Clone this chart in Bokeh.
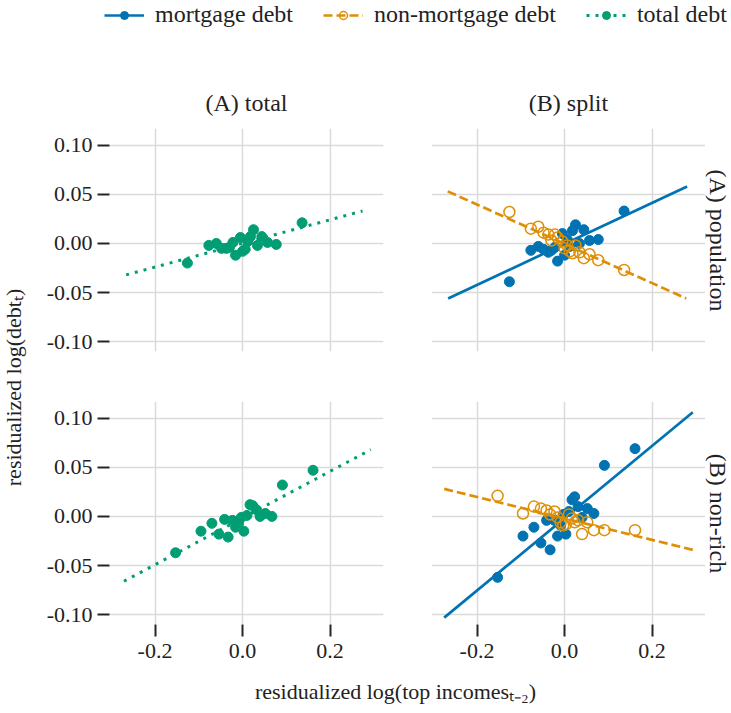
from math import pi
from bokeh.plotting import figure
from bokeh.models import (Range1d, FixedTicker, NumeralTickFormatter, Label, Legend,
                          LegendItem, Grid)
from bokeh.layouts import column, row
from bokeh.embed import file_html
from bokeh.resources import INLINE

FONT = "Liberation Serif"
FS = "22px"        # tick labels, axis labels
FS_W = "24px"      # legend, facet titles
TXT = "#222222"
BLUE, ORANGE, GREEN = "#0173B2", "#DE8F05", "#029E73"

# ---------------- data ----------------
x_ticks = [-0.2, 0.0, 0.2]
y_ticks = [-0.10, -0.05, 0.00, 0.05, 0.10]
col_titles = ["(A) total", "(B) split"]
row_titles = ["(A) population", "(B) non-rich"]
series_names = ["mortgage debt", "non-mortgage debt", "total debt"]
x_label = "residualized log(top incomesₜ₋₂)"
y_label = "residualized log(debtₜ)"

# row A: population
pop_x = [-0.126, -0.077, -0.060, -0.048, -0.037, -0.030, -0.022, -0.016, -0.005, 0.000,
         0.006, 0.012, 0.018, 0.025, 0.034, 0.044, 0.057, 0.077, 0.136]
pop_total = [-0.020, -0.002, 0.000, -0.005, -0.005, -0.004, 0.001, -0.012, 0.006, -0.008,
             -0.006, 0.002, 0.007, 0.014, -0.002, 0.007, 0.001, -0.001, 0.021]
pop_mortgage = [-0.039, -0.007, -0.003, -0.006, -0.009, -0.007, -0.004, -0.018, 0.010, -0.012,
                0.004, -0.003, 0.013, 0.019, 0.000, 0.014, 0.003, 0.004, 0.033]
pop_nonmortgage = [0.032, 0.015, 0.017, 0.011, 0.009, 0.003, 0.009, 0.006, 0.002, -0.005,
                   -0.002, -0.008, -0.010, -0.002, -0.009, -0.015, -0.011, -0.017, -0.027]

# row B: non-rich
nr_x = [-0.153, -0.095, -0.070, -0.054, -0.041, -0.033, -0.023, -0.016, -0.009, -0.003,
        0.003, 0.010, 0.017, 0.023, 0.031, 0.040, 0.052, 0.067, 0.091, 0.161]
nr_total = [-0.037, -0.015, -0.007, -0.018, -0.003, -0.021, -0.004, -0.011, -0.007, -0.001,
            -0.015, 0.001, 0.012, 0.011, 0.007, 0.000, 0.003, 0.000, 0.032, 0.047]
nr_mortgage = [-0.062, -0.020, -0.011, -0.027, -0.004, -0.034, -0.004, -0.020, -0.009, 0.002,
               -0.018, 0.005, 0.017, 0.020, 0.010, -0.001, 0.008, 0.003, 0.052, 0.069]
nr_nonmortgage = [0.021, 0.003, 0.010, 0.008, 0.006, 0.002, 0.005, -0.001, -0.006, -0.009,
                  -0.008, 0.002, -0.002, -0.006, -0.004, -0.018, -0.006, -0.014, -0.014, -0.014]

# fitted regression lines (end points)
pop_total_fit_x = [-0.266, 0.274]
pop_total_fit_y = [-0.032, 0.033]
pop_mortgage_fit_x = [-0.266, 0.280]
pop_mortgage_fit_y = [-0.056, 0.058]
pop_nonmortgage_fit_x = [-0.267, 0.278]
pop_nonmortgage_fit_y = [0.053, -0.056]
nr_total_fit_x = [-0.271, 0.293]
nr_total_fit_y = [-0.066, 0.068]
nr_mortgage_fit_x = [-0.275, 0.293]
nr_mortgage_fit_y = [-0.103, 0.106]
nr_nonmortgage_fit_x = [-0.275, 0.293]
nr_nonmortgage_fit_y = [0.028, -0.034]

X_RANGE = (-0.304, 0.322)
Y_RANGE = (-0.110, 0.117)

# ---------------- styles ----------------
LW_SOLID = 2.7
DASH = "9 4"
DOT = "3 6"
DOT_W = 3
MS = 10


def blank(width, height):
    p = figure(width=width, height=height, x_range=Range1d(0, width), y_range=Range1d(0, height),
               x_axis_location=None, y_axis_location=None, output_backend="svg",
               toolbar_location=None, min_border=0)
    p.outline_line_color = None
    p.grid.visible = False
    return p


def panel(width, height, mb_l, mb_r, mb_t, mb_b, show_x, show_y):
    p = figure(width=width, height=height, x_range=Range1d(*X_RANGE), y_range=Range1d(*Y_RANGE),
               x_axis_location="below" if show_x else None,
               y_axis_location="left" if show_y else None,
               output_backend="svg", toolbar_location=None,
               min_border_left=mb_l, min_border_right=mb_r,
               min_border_top=mb_t, min_border_bottom=mb_b)
    p.outline_line_color = None
    p.grid.visible = False
    for dim, ticks in ((0, x_ticks), (1, y_ticks)):
        g = Grid(dimension=dim, ticker=FixedTicker(ticks=ticks),
                 grid_line_color="#dadada", grid_line_width=1.5)
        p.add_layout(g, "center")
    axes = []
    if show_x:
        p.xaxis.ticker = FixedTicker(ticks=x_ticks)
        p.xaxis.formatter = NumeralTickFormatter(format="0.0")
        p.xaxis.major_label_standoff = 7
        axes.append(p.xaxis)
    if show_y:
        p.yaxis.ticker = FixedTicker(ticks=y_ticks)
        p.yaxis.formatter = NumeralTickFormatter(format="0.00")
        p.yaxis.major_label_standoff = 5
        axes.append(p.yaxis)
    for ax in axes:
        ax.axis_line_color = None
        ax.major_tick_line_color = "#262626"
        ax.major_tick_line_width = 2
        ax.major_tick_out = 12
        ax.major_tick_in = 0
        ax.minor_tick_line_color = None
        ax.major_label_text_font = FONT
        ax.major_label_text_font_size = FS
        ax.major_label_text_color = TXT
    return p


def draw_total(p, x, y, fx, fy, **kw):
    r1 = p.line(fx, fy, line_color=GREEN, line_width=DOT_W, line_dash=DOT, **kw)
    r2 = p.scatter(x, y, size=MS, fill_color=GREEN, line_color=GREEN, **kw)
    return [r1, r2]


def draw_split(p, x, ym, yn, fmx, fmy, fnx, fny, **kw):
    r1 = p.line(fmx, fmy, line_color=BLUE, line_width=LW_SOLID, **kw)
    r2 = p.scatter(x, ym, size=MS, fill_color=BLUE, line_color=BLUE, **kw)
    r3 = p.line(fnx, fny, line_color=ORANGE, line_width=LW_SOLID, line_dash=DASH, **kw)
    r4 = p.scatter(x, yn, size=MS + 1, fill_color="white", fill_alpha=0.0,
                   line_color=ORANGE, line_width=1.5, **kw)
    return [r1, r2], [r3, r4]


# panels: frames 274 x 223
tl = panel(367, 248, 69, 24, 0, 25, False, True)
tr = panel(298, 248, 24, 0, 0, 25, False, False)
bl = panel(367, 298, 69, 24, 25, 50, True, True)
br = panel(298, 298, 24, 0, 25, 50, True, False)

draw_total(tl, pop_x, pop_total, pop_total_fit_x, pop_total_fit_y)
draw_split(tr, pop_x, pop_mortgage, pop_nonmortgage,
           pop_mortgage_fit_x, pop_mortgage_fit_y, pop_nonmortgage_fit_x, pop_nonmortgage_fit_y)
draw_total(bl, nr_x, nr_total, nr_total_fit_x, nr_total_fit_y)
draw_split(br, nr_x, nr_mortgage, nr_nonmortgage,
           nr_mortgage_fit_x, nr_mortgage_fit_y, nr_nonmortgage_fit_x, nr_nonmortgage_fit_y)

# ---------------- top: legend + column titles ----------------
TOP_H = 128
top = blank(731, TOP_H)
# legend proxies: the same series, on a range that keeps them out of sight
top.extra_x_ranges = {"hidden": Range1d(1000, 1001)}
top.extra_y_ranges = {"hidden": Range1d(1000, 1001)}
hid = dict(x_range_name="hidden", y_range_name="hidden")
leg_m, leg_n = draw_split(top, pop_x, pop_mortgage, pop_nonmortgage,
                          pop_mortgage_fit_x, pop_mortgage_fit_y,
                          pop_nonmortgage_fit_x, pop_nonmortgage_fit_y, **hid)
leg_t = draw_total(top, pop_x, pop_total, pop_total_fit_x, pop_total_fit_y, **hid)
legend = Legend(items=[LegendItem(label=series_names[0], renderers=leg_m),
                       LegendItem(label=series_names[1], renderers=leg_n),
                       LegendItem(label=series_names[2], renderers=leg_t)],
                orientation="horizontal", location=(104, TOP_H - 28),
                label_text_font=FONT, label_text_font_size=FS_W, label_text_color=TXT,
                glyph_width=40, glyph_height=20, label_standoff=11, spacing=30,
                padding=0, margin=0, border_line_color=None, background_fill_alpha=0)
top.add_layout(legend, "center")
for txt, cx in zip(col_titles, [246, 568]):
    top.add_layout(Label(x=cx, y=TOP_H - 102, text=txt, text_font=FONT, text_font_size=FS_W,
                         text_color=TXT, text_align="center", text_baseline="middle"))

# ---------------- side labels ----------------
SIDE_H = 546          # page y 128 .. 674
left = blank(40, SIDE_H)
left.add_layout(Label(x=13, y=674 - 387, text=y_label, angle=pi / 2, text_font=FONT,
                      text_font_size=FS, text_color=TXT, text_align="center",
                      text_baseline="middle"))
right = blank(26, SIDE_H)
for txt, py in zip(row_titles, [240, 513]):
    right.add_layout(Label(x=12, y=674 - py, text=txt, angle=-pi / 2, text_font=FONT,
                           text_font_size=FS_W, text_color=TXT, text_align="center",
                           text_baseline="middle"))

BOT_H = 39            # page y 674 .. 713
bottom = blank(731, BOT_H)
bottom.add_layout(Label(x=395, y=713 - 691, text=x_label, text_font=FONT, text_font_size=FS,
                        text_color=TXT, text_align="center", text_baseline="middle"))

layout = column(top,
                row(left, column(row(tl, tr), row(bl, br)), right),
                bottom)

open("out.html", "w").write(file_html(layout, INLINE))
